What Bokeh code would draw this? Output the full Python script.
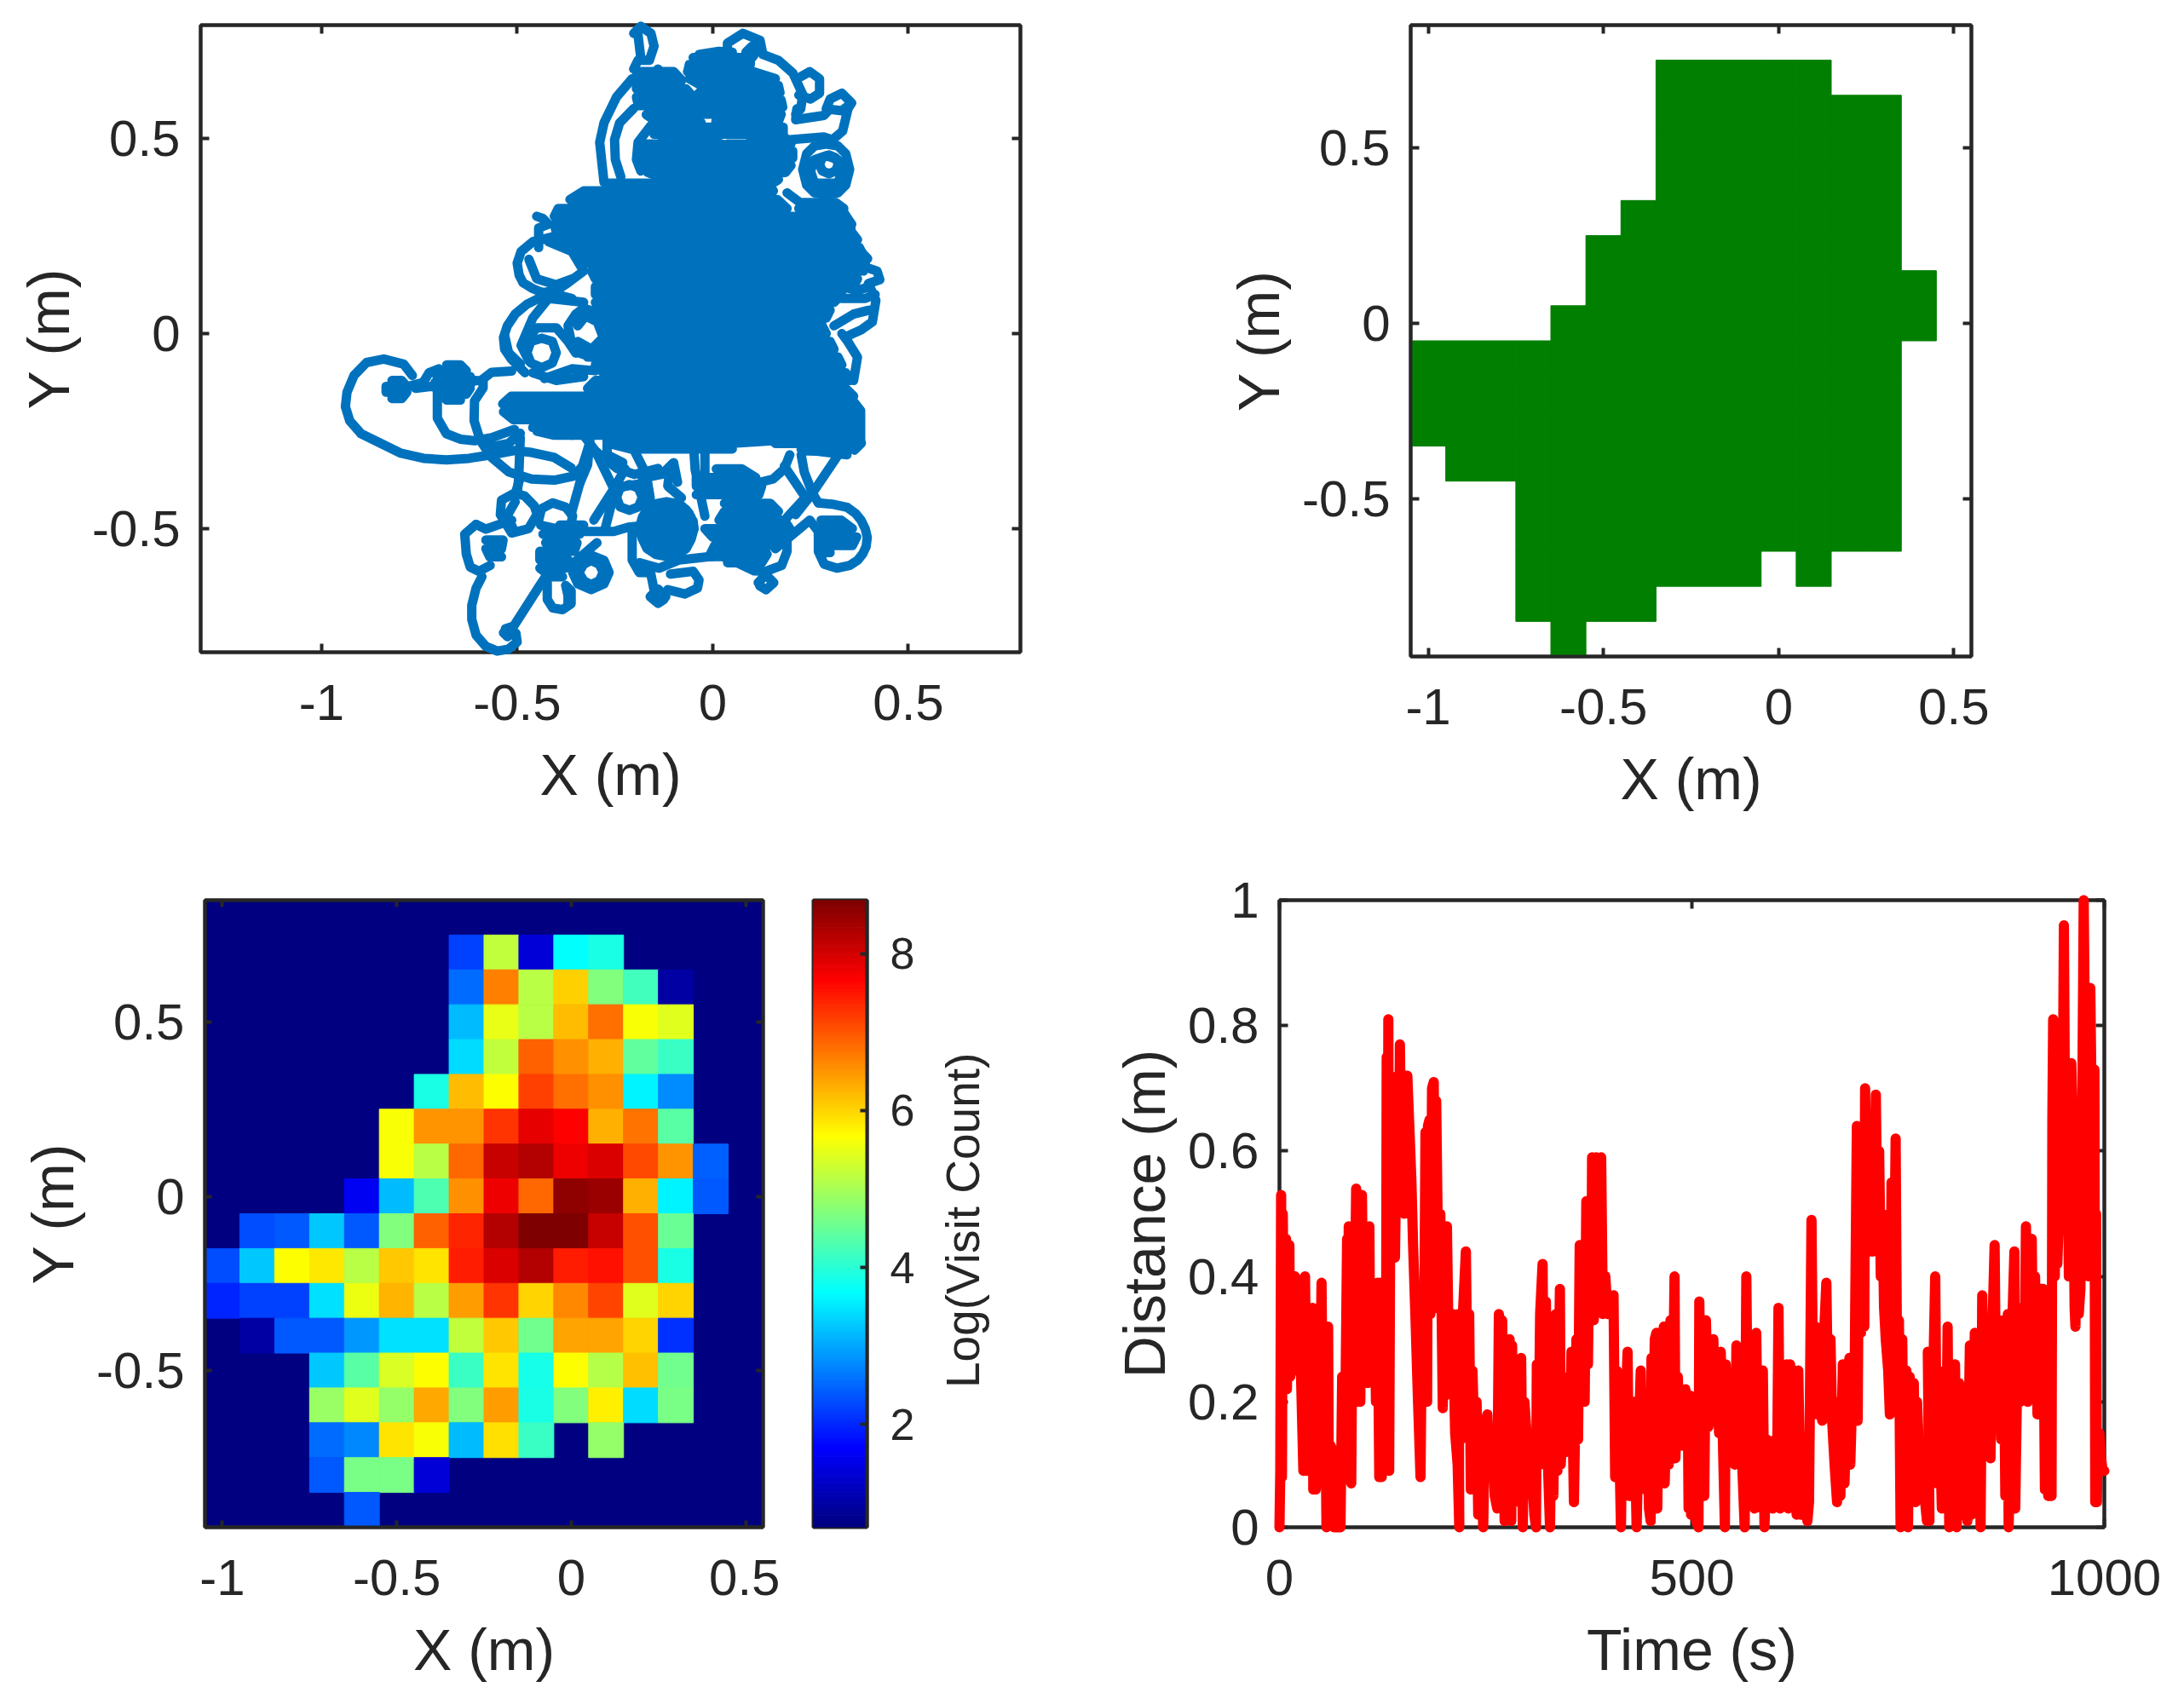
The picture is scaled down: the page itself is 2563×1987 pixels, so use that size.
import numpy as np
from bokeh.core.properties import value
from bokeh.embed import file_html
from bokeh.resources import INLINE
from bokeh.plotting import figure
from bokeh.layouts import column, row
from bokeh.models import LinearAxis, LinearColorMapper, Range1d, ColumnDataSource
from bokeh.transform import transform

INK = "#262626"
FONT = "Liberation Sans"
BLUE = "#0072BD"
GREEN = "#007F00"
RED = "#FF0000"
NAVY = "#000080"

# ------- distance trace (time s, distance m)
dist_a = [(0,0),(1,.09),(2,.53),(3,.08),(4,.50),(6,.22),(8,.46),(9,.22),(12,.45),(13,.24),(15,.40),(16,.25),(19,.40),(20,.25),(24,.33),(26,.25),
 (29,.09),(31,.40),(33,.09),(35,.33),(37,.27),(40,.35),(41,.06),(43,.34),(44,.06),(47,.35),(48,.07),(51,.39),(53,.08),(55,.30),(57,0),(59,.32),(60,.02),(62,.13),
 (65,.12),(66,0),(68,.11),(70,0),(73,0),(74,0),(76,.24),(79,.08),(82,.46),(83,.20),(84,.48),(87,.07),(89,.46),(90,.2),(93,.54),(94,.2),(97,.5),(98,.2),(100,.53),
 (102,.25),(104,.48),(107,.23),(109,.48),(110,.26),(113,.3),(115,.38),(117,.2),(119,.39),(121,.08),(122,.39),(124,.08),(127,.39),(129,.1)]
dist_b = [(130,.75),(131,.1),(132,.81),(133,.09),(135,.71),(137,.43),(139,.7),(140,.43),(143,.72),(145,.55),(146,.77),(148,.55),(150,.72),(151,.5),(153,.72),(154,.52),
 (155,.72),(158,.62),(160,.55),(162,.45),(165,.33),(168,.2),(171,.08),(173,.38),(175,.2),(177,.63),(179,.2),(180,.64),(182,.65),(183,.34),(185,.7),(187,.71),(189,.35),
 (190,.68),(192,.46),(194,.35),(195,.5),(197,.3),(198,.19),(200,.48),(201,.21),(203,.48),(205,.3),(207,.26),(210,.34),(213,.15),(216,.1)]
dist_c = [(218,0),(217,.34),(220,.14),(222,.33),(226,.44),(228,.2),(230,.34),(232,.06),(234,.25),(237,.1),(239,.2),(241,.02),(244,.17),(247,0),(249,.16),(252,.18),(255,.08),
 (258,.15),(261,.05),(264,.03),(266,.34),(268,.1),(270,.33),(273,.01),(275,.28),(277,.02),(279,.3),(281,.01),(282,.29),(285,.04),(288,.22),(290,.1),(293,.27),(295,0),(297,.2),
 (300,.14),(303,.06),(306,.09),(309,.02),(311,0),(312,.26),(314,.1),(316,.34),(319,.42),(321,.1),(323,.36),(325,.12),(328,0),(330,.2),(332,.05),(335,.34),(337,.09),(340,.38),
 (341,.1),(344,.2),(347,.12),(350,.24),(352,.13),(354,.28),(357,.04)]
dist_d = [(360,.3),(362,.14),(364,.45),(366,.2),(368,.45),(370,.2),(372,.52),(374,.26),(376,.52),(378,.33),(379,.59),(381,.33),(384,.59),(386,.35),(390,.59),(392,.34),(395,.4),
 (398,.34),(402,.36),(405,.37),(407,.08),(409,.25),(411,.2),(414,0),(416,.21),(418,.1),(420,.2)]
dist_e = [(422,.28),(424,.05),(426,.2),(428,.06),(430,.2),(433,0),(435,.12),(438,.25),(440,.1),(442,.19),(444,.06),(446,.2),(448,.03),(450,.01),(451,.27),(453,.12),(455,.3),(457,.31),
 (458,.03),(460,.22),(462,.07),(464,.3),(466,.32),(467,.07),(470,.24),(472,.1),(474,.33),(476,.12),(479,.4),(480,.11),(483,.24),(485,.13),(488,.22),(490,.13),(492,.22),(495,.2),
 (496,.03),(498,.21),(499,.02),(502,.08),(505,.01),(508,0),(509,.36),(511,.14),(513,.33),(515,.05),(517,.33),(520,.16),(523,.22),(526,.3),(528,.17),(530,.25),(533,.15),(535,.28),
 (537,.17),(540,0),(541,.26),(544,.12),(547,.24),(550,.11),(552,.1),(554,.29),(556,.12),(558,.25),(561,.1),(564,0),(566,.4),(568,.12),(570,.27),(572,.13),(576,.03),(578,.31),
 (580,.12),(583,.25),(585,.03),(586,.25),(588,.0),(591,.14),(594,.04),(598,.03),(601,.14),(603,.05),(605,.35),(607,.03),(610,.22),(613,.1),(615,.26),(617,.03),(619,.26),(622,.06),
 (624,.25),(627,.02),(629,.25),(632,.02),(636,.08),(640,.01),(642,.04),(645,.49),(647,.2),(650,.32),(652,.18),(655,.22),(658,.17),(660,.3),(663,.39),(665,.2),(668,.3),(670,.17),
 (673,.1),(676,.04),(678,.2),(680,.05),(683,.26),(685,.07),(688,.22),(691,.27),(692,.1),(695,.24),(697,.17)]
dist_f = [(698,.35),(700,.64),(701,.17),(703,.62),(705,.31),(707,.62),(709,.32),(710,.7),(712,.44),(714,.65),(716,.44),(719,.62),(720,.44),(723,.69),(725,.45),(727,.6),(729,.4),(731,.5),
 (733,.35),(735,.3),(738,.25),(740,.18),(742,.55),(744,.22),(747,.62),(749,.2),(751,.33),(753,0),(755,.3),(757,.05),(760,.25),(762,0),(764,.24),(766,.04),(769,.23),(771,.04),(773,.2),
 (776,.1),(779,.13),(782,.05),(785,.01),(788,.01)]
dist_g = [(786,.28),(789,.1),(792,.2),(795,.4),(797,.07),(800,.2),(803,.03),(806,.25),(808,.07),(810,.32),(812,0),(815,.26),(817,.01),(819,.26),(821,0),(824,.23),(827,.02),(830,.15),(832,.2),
 (834,.01),(837,.29),(839,.02),(843,.31),(846,.14),(848,.3),(850,0),(852,.37),(855,.14),(857,.3),(860,.12),(862,.11),(864,.3),(867,.45),(869,.16),(872,.33),(875,.14),(878,.33),(880,.05),
 (883,.34),(884,0),(887,.2),(889,.35),(891,.44),(892,.03),(895,.3),(898,.2),(900,.35),(903,.21),(905,.48),(907,.2),(910,.21),(912,.46),(914,.21),(916,.4),(919,.18),(922,.38),(926,.38),
 (928,.06),(930,.3),(932,.05),(934,.38)]
dist_h = [(936,.05),(937,.65),(938,.81),(940,.4),(941,.75),(943,.42),(945,.5),(947,.56),(949,.54),(951,.96),(953,.5),(955,.74),(957,.4),(960,.74),(962,.62),(964,.35),(965,.32),(967,.66),
 (969,.34),(971,.38),(973,.62),(975,1.0),(977,.7),(979,.85),(981,.4),(983,.86),(985,.63),(987,.73),(988,.73),(989,.04),(990,.5),(991,.04),(992,.14),(994,.15),(996,.11),(998,.09),(1000,.09)]
dist_all = dist_a + dist_b + dist_c + dist_d + dist_e + dist_f + dist_g + dist_h

# ------- log visit count, one list per y bin, 16 x bins from x=-1.0 to 0.5
B = 0.69
log_y_p8 = [B]*16
log_y_p7 = [B]*7 + [2.19,5.2,1.4,3.69,3.9] + [B]*4
log_y_p6 = [B]*7 + [2.55,6.68,5.15,6.05,4.69,4.2,0.98] + [B]*2
log_y_p5 = [B]*7 + [3.17,5.5,5.15,6.2,6.8,5.65,5.45] + [B]*2
log_y_p4 = [B]*7 + [3.42,5.2,6.92,6.55,6.3,4.45,4.15] + [B]*2
log_y_p3 = [B]*6 + [3.9,6.2,5.68,7.17,6.8,6.55,3.6,2.8] + [B]*2
log_y_p2 = [B]*5 + [5.65,6.5,6.5,7.25,7.85,7.68,6.3,6.75,4.4] + [B]*2
log_y_p1 = [B]*5 + [5.65,5.15,6.85,8.1,8.25,7.8,7.95,7.1,6.5,2.45,B]
log_y_00 = [B]*4 + [1.6,3.17,4.3,6.55,7.8,6.85,8.55,8.44,6.3,3.6,2.4,B]
log_y_m1 = [B,2.3,2.38,3.25,2.38,4.69,6.92,7.4,8.25,8.68,8.65,8.1,7.05,4.5,B,B]
log_y_m2 = [2.3,3.25,5.68,5.85,5.15,6.1,5.88,7.45,7.95,8.25,7.44,7.55,7.05,3.9,B,B]
log_y_m3 = [2.0,2.19,2.19,3.45,5.55,6.25,5.15,6.44,7.25,6.0,6.6,7.12,5.44,6.02,B,B]
log_y_m4 = [B,1.0,2.38,2.38,2.9,3.45,3.45,5.2,6.1,4.58,6.4,6.4,6.02,2.08,B,B]
log_y_m5 = [B]*3 + [3.25,4.4,5.38,5.68,4.15,5.88,3.85,5.68,5.1,6.16,4.58,B,B]
log_y_m6 = [B]*3 + [4.9,5.44,4.85,6.35,4.69,6.44,3.9,4.69,5.8,3.42,4.63,B,B]
log_y_m7 = [B]*3 + [2.55,2.75,5.88,5.65,3.17,5.92,4.15,B,4.85,B,B,B,B]
log_y_m8 = [B]*3 + [2.38,4.63,4.63,1.4] + [B]*9
log_y_m9 = [B]*4 + [2.38] + [B]*11
log_rows = [log_y_p8,log_y_p7,log_y_p6,log_y_p5,log_y_p4,log_y_p3,log_y_p2,log_y_p1,log_y_00,
            log_y_m1,log_y_m2,log_y_m3,log_y_m4,log_y_m5,log_y_m6,log_y_m7,log_y_m8,log_y_m9]
bin_x = [-1.0,-.9,-.8,-.7,-.6,-.5,-.4,-.3,-.2,-.1,0.0,.1,.2,.3,.4,.5]
bin_y = [.8,.7,.6,.5,.4,.3,.2,.1,0.0,-.1,-.2,-.3,-.4,-.5,-.6,-.7,-.8,-.9]
extra_visited = [(-1.0,-.1)]

# ------- trajectory: filled masses as rows (y, x left, x right)
core_rows = [(.385,-.27,.14),(.365,-.33,.155),(.343,-.365,.165),(.32,-.395,.19),(.30,-.405,.34),(.28,-.405,.355),
 (.26,-.40,.355),(.24,-.385,.37),(.22,-.36,.375),(.20,-.34,.385),(.18,-.33,.39),(.16,-.31,.385),(.14,-.30,.37),
 (.12,-.30,.36),(.10,-.30,.33),(.08,-.30,.31),(.06,-.29,.30),(.04,-.29,.29),(.02,-.29,.28),(0,-.28,.29),
 (-.02,-.28,.30),(-.04,-.30,.31),(-.06,-.32,.32),(-.08,-.30,.33),(-.10,-.28,.34),(-.12,-.30,.35),(-.14,-.32,.34),
 (-.16,-.515,.36),(-.18,-.537,.36),(-.20,-.535,.36),(-.22,-.51,.36),(-.24,-.46,.37),(-.26,-.36,.37),(-.28,-.27,.06),(-.295,-.21,.05)]
core_tail = [(-.281,.16,.357),(-.30,.23,.34)]
bump_right = [(.335,.23,.315),(.32,.22,.335)]
far_blob_rows = [(-.08,-.68,-.645),(-.095,-.695,-.63),(-.11,-.705,-.62),(-.125,-.71,-.615),(-.14,-.705,-.62),(-.155,-.695,-.63),(-.17,-.68,-.645)]
far_dot_rows = [(-.12,-.82,-.795),(-.135,-.835,-.782),(-.15,-.835,-.782),(-.166,-.82,-.795)]
lobe_upleft = [(.67,-.195,-.10),(.648,-.195,-.079),(.626,-.195,-.068),(.605,-.195,-.05),(.583,-.19,-.04),(.56,-.17,-.03),(.54,-.14,-.03)]
lobe_top = [(.706,-.05,.096),(.688,-.06,.096),(.67,-.064,.103),(.652,-.06,.16),(.634,-.028,.168),(.616,-.035,.172),(.597,-.05,.175),(.579,-.057,.179),(.561,-.05,.175),(.543,.008,.168)]
lobe_band = [(.528,-.15,.18),(.51,-.15,.18)]
lobe_midleft = [(.503,-.13,-.064),(.485,-.173,.023),(.467,-.184,.023),(.449,-.184,.023),(.43,-.184,.023),(.412,-.166,.023),(.394,-.12,.023)]
lobe_midright = [(.503,.096,.183),(.485,.0375,.20),(.467,.0375,.2045),(.449,.0375,.2045),(.43,.0375,.20),(.412,.0375,.186),(.394,.0375,.168),(.376,.0375,.139)]
lobe_band_low = [(-.346,.009,.074),(-.368,-.042,.11),(-.39,-.042,.125),(-.412,-.042,.118)]
lobe_bottom = [(-.434,.03,.147),(-.455,.03,.168),(-.477,.016,.183),(-.499,-.02,.197),(-.521,0,.19),(-.542,.005,.154),(-.564,-.006,.139),(-.586,.038,.125)]
lobe_lowleft = [(-.49,-.391,-.33),(-.513,-.413,-.34),(-.535,-.427,-.347),(-.557,-.442,-.354),(-.579,-.442,-.369),(-.60,-.442,-.376),(-.622,-.413,-.384)]
lobe_dark = [(-.528,-.58,-.536),(-.55,-.58,-.54),(-.571,-.57,-.54)]
lobe_ringfill = [(-.477,.277,.328),(-.499,.27,.357),(-.52,.27,.368),(-.542,.27,.357),(-.56,.28,.30)]
lobe_midring = [(-.44,-.15,-.08),(-.46,-.17,-.06),(-.48,-.18,-.05),(-.50,-.188,-.048),(-.52,-.18,-.055),(-.54,-.165,-.065),(-.56,-.13,-.09)]
lobe_ringup = [(.385,.26,.325),(.37,.265,.32)]
filled_masses = [core_rows, core_tail, bump_right, far_blob_rows, far_dot_rows, lobe_upleft, lobe_top, lobe_band, lobe_midleft, lobe_midright,
                 lobe_band_low, lobe_bottom, lobe_lowleft, lobe_dark, lobe_ringfill, lobe_midring, lobe_ringup]

# ------- trajectory: visible strokes (x, y)
top_hook = [(-.202,.677),(-.191,.699),(-.162,.699),(-.15,.735),(-.158,.768),(-.184,.786),(-.202,.768),(-.191,.764),(-.184,.706)]
top_bump = [(-.14,.677),(-.14,.66)]
top_arc_a = [(-.206,.652),(-.246,.605),(-.278,.539),(-.289,.489),(-.278,.387)]
top_arc_b = [(-.202,.576),(-.238,.539),(-.251,.496),(-.249,.445),(-.235,.401)]
top_arc_c = [(-.158,.532),(-.191,.489),(-.195,.445),(-.184,.416)]
top_outer_a = [(.0375,.72),(.0375,.743),(.077,.768),(.121,.75),(.128,.714),(.168,.699),(.205,.666),(.23,.612),(.225,.575),(.212,.561)]
top_outer_b = [(-.064,.67),(-.035,.714),(.016,.722),(.05,.72)]
top_inner_dot = [(.085,.72),(.10,.735),(.118,.73),(.10,.705)]
ring_small = [(.223,.656),(.248,.67),(.273,.652),(.273,.615),(.25,.60),(.22,.61)]
ring_small_b = [(.215,.575),(.212,.547),(.284,.558),(.30,.575)]
blob_right = [(.355,.59),(.33,.615),(.30,.60),(.29,.575),(.33,.57),(.355,.59),(.346,.576),(.332,.518),(.306,.496)]
band_right_a = [(.197,.496),(.284,.503),(.306,.496)]
ring_upper = [(.35,.42),(.34,.46),(.32,.48),(.29,.485),(.26,.48),(.24,.46),(.23,.42),(.24,.38),(.26,.36),(.29,.355),(.32,.36),(.34,.38),(.35,.42)]
ring_upper2 = [(.33,.415),(.32,.445),(.29,.455),(.26,.445),(.25,.415),(.26,.385),(.29,.375),(.32,.385),(.33,.415)]
ring_upper3 = [(.321,.433),(.314,.45),(.297,.457),(.28,.45),(.273,.433),(.28,.416),(.297,.409),(.314,.416),(.321,.433)]
spur_left = [(-.45,.30),(-.435,.295),(-.42,.28),(-.445,.27),(-.445,.22)]
ring_left = [(-.40,.25),(-.46,.235),(-.49,.21),(-.50,.18),(-.495,.15),(-.485,.13),(-.46,.115),(-.435,.105),(-.40,.11),(-.37,.13),(-.33,.16),(-.36,.21),(-.42,.235)]
ring_left_b = [(-.47,.19),(-.45,.14),(-.40,.125),(-.36,.14)]
arc_midleft = [(-.36,.09),(-.40,.10),(-.435,.095),(-.475,.075),(-.505,.05),(-.525,.02),(-.535,-.01),(-.532,-.04),(-.515,-.065),(-.48,-.10)]
arc_midleft_b = [(-.33,.08),(-.42,.09),(-.46,.04),(-.49,-.03),(-.47,-.07)]
ring_mid_a = [(-.40,-.049),(-.41,-.02),(-.437,-.012),(-.465,-.02),(-.475,-.049),(-.465,-.075),(-.437,-.087),(-.41,-.075),(-.40,-.049)]
ring_mid_arc = [(-.477,-.02),(-.45,.015),(-.40,.015),(-.37,-.02),(-.35,-.05)]
ring_mid_arc_b = [(-.532,-.005),(-.522,-.049),(-.492,-.078)]
ring_mid_b = [(-.37,.02),(-.35,.05),(-.33,.065),(-.30,.055),(-.28,.04),(-.27,.005),(-.27,-.03),(-.29,-.05),(-.31,-.06),(-.34,-.05),(-.36,-.03),(-.37,.02)]
ring_mid_b2 = [(-.345,.02),(-.325,.045),(-.295,.03),(-.28,-.01),(-.31,-.04),(-.345,-.02)]
link_mid = [(-.46,-.10),(-.40,-.12),(-.33,-.11)]
link_mid_b = [(-.43,-.115),(-.36,-.09),(-.30,-.095)]
far_loop = [(-.768,-.107),(-.79,-.078),(-.841,-.065),(-.885,-.074),(-.917,-.107),(-.935,-.15),(-.939,-.187),(-.928,-.223),(-.899,-.256),(-.848,-.281),(-.797,-.306),
            (-.739,-.319),(-.681,-.323),(-.623,-.319),(-.565,-.31),(-.507,-.299),(-.463,-.304),(-.405,-.317),(-.362,-.343)]
far_bridge_a = [(-.78,-.135),(-.74,-.125),(-.725,-.10),(-.70,-.09)]
far_bridge_b = [(-.76,-.14),(-.72,-.135),(-.70,-.14)]
far_link = [(-.63,-.118),(-.594,-.121),(-.565,-.099),(-.514,-.096)]
far_lobe = [(-.704,-.15),(-.704,-.216),(-.681,-.256),(-.645,-.27),(-.609,-.274),(-.565,-.266),(-.507,-.245)]
far_lobe_b = [(-.587,-.12),(-.587,-.139),(-.609,-.172),(-.61,-.223),(-.594,-.274),(-.565,-.317),(-.521,-.354),(-.463,-.372),(-.405,-.375),(-.354,-.364),(-.333,-.339),(-.315,-.281)]
far_lobe_c = [(-.58,-.274),(-.558,-.288),(-.522,-.281),(-.492,-.255)]
far_lobe_v = [(-.492,-.266),(-.496,-.368),(-.50,-.412)]
bulge_low = [(-.449,-.25),(-.405,-.26),(-.36,-.26),(-.33,-.25)]
low_hook = [(-.520,-.764),(-.503,-.767),(-.500,-.789),(-.522,-.807),(-.551,-.812),(-.580,-.80),(-.605,-.771),(-.616,-.731),(-.616,-.695),(-.605,-.651),(-.59,-.622)]
low_dot = [(-.53,-.755),(-.515,-.75),(-.508,-.765),(-.525,-.775),(-.535,-.765)]
low_line = [(-.51,-.75),(-.442,-.644),(-.40,-.58)]
low_line_b = [(-.304,-.477),(-.253,-.397),(-.224,-.346)]
low_spike = [(-.605,-.488),(-.634,-.513),(-.63,-.564),(-.62,-.597),(-.598,-.608),(-.569,-.593)]
low_spike_b = [(-.605,-.488),(-.58,-.50),(-.514,-.477)]
low_ring_a = [(-.543,-.463),(-.54,-.426),(-.507,-.408),(-.481,-.415),(-.456,-.441),(-.449,-.462),(-.471,-.499),(-.514,-.51),(-.543,-.463)]
low_ring_a2 = [(-.505,-.43),(-.525,-.465),(-.51,-.50)]
low_ring_b = [(-.445,-.477),(-.438,-.448),(-.409,-.433),(-.376,-.444),(-.358,-.466),(-.365,-.499),(-.398,-.513),(-.434,-.513)]
low_ring_c = [(-.265,-.611),(-.278,-.58),(-.311,-.567),(-.345,-.58),(-.358,-.611),(-.345,-.64),(-.311,-.655),(-.278,-.64),(-.265,-.611)]
low_ring_c2 = [(-.28,-.611),(-.29,-.59),(-.311,-.58),(-.33,-.59),(-.342,-.611),(-.33,-.632),(-.311,-.642),(-.29,-.632),(-.28,-.611)]
low_u = [(-.423,-.637),(-.423,-.68),(-.409,-.702),(-.384,-.706),(-.362,-.691),(-.362,-.658),(-.376,-.644),(-.37,-.67),(-.37,-.69)]
low_ring_e = [(-.18,-.419),(-.19,-.395),(-.213,-.386),(-.237,-.395),(-.246,-.419),(-.237,-.443),(-.213,-.452),(-.19,-.443),(-.18,-.419)]
low_ring_e2 = [(-.253,-.395),(-.19,-.385),(-.163,-.41),(-.17,-.445)]
low_links_a = [(-.34,-.506),(-.253,-.506),(-.216,-.495),(-.17,-.49)]
low_links_b = [(-.34,-.383),(-.362,-.462)]
low_links_c = [(-.253,-.412),(-.275,-.499)]
low_links_d = [(-.492,-.368),(-.503,-.404)]
low_links_e = [(-.296,-.535),(-.33,-.564),(-.362,-.593)]
low_links_f = [(-.312,-.25),(-.32,-.336),(-.34,-.383)]
low_links_g = [(-.44,-.49),(-.35,-.51)]
low_links_h = [(-.33,-.26),(-.30,-.30),(-.245,-.345),(-.20,-.36),(-.14,-.345)]
low_links_i = [(-.27,-.26),(-.27,-.31),(-.23,-.33)]
low_links_j = [(-.253,-.397),(-.30,-.30)]
low_links_k = [(-.20,-.30),(-.17,-.36),(-.16,-.42)]
mid_ring_a = [(-.048,-.499),(-.055,-.47),(-.068,-.45),(-.09,-.435),(-.118,-.43),(-.145,-.435),(-.168,-.45),(-.18,-.47),(-.188,-.499),(-.18,-.525),(-.168,-.55),(-.145,-.565),(-.118,-.57),(-.09,-.565),(-.068,-.55),(-.055,-.525),(-.048,-.499)]
mid_u = [(-.206,-.50),(-.206,-.579),(-.188,-.611),(-.159,-.611),(-.148,-.666)]
mid_arc = [(-.188,-.586),(-.137,-.60),(-.086,-.579),(-.013,-.571),(.025,-.57),(.06,-.585),(.106,-.607),(.136,-.608)]
mid_dot = [(-.12,-.673),(-.14,-.653),(-.16,-.673),(-.14,-.69),(-.125,-.68),(-.14,-.67)]
mid_loop = [(-.108,-.615),(-.05,-.608),(-.035,-.63),(-.039,-.651),(-.071,-.666),(-.115,-.655)]
low_dot_b = [(.116,-.637),(.136,-.617),(.156,-.637),(.136,-.655),(.12,-.645)]
low_tail = [(.136,-.608),(.176,-.593),(.19,-.557),(.19,-.506)]
lower_a = [(-.05,-.272),(-.045,-.348),(-.02,-.467)]
lower_b = [(-.11,-.35),(-.115,-.39),(-.08,-.42)]
lower_c = [(-.18,-.37),(-.13,-.36),(-.10,-.33),(-.09,-.38)]
lower_d = [(-.02,-.30),(-.02,-.36),(-.03,-.40)]
lower_e = [(.11,-.383),(.154,-.372),(.183,-.346),(.197,-.31)]
lower_f = [(.226,-.296),(.343,-.31)]
ring_lowright = [(.27,-.433),(.31,-.437),(.343,-.444),(.365,-.46),(.379,-.477),(.39,-.50),(.395,-.521),(.392,-.545),(.383,-.564),(.37,-.58),(.35,-.593),(.317,-.60),(.285,-.59),(.27,-.557),(.27,-.506),(.248,-.477),(.205,-.513),(.16,-.55)]
cross_a = [(.321,-.31),(.255,-.408),(.212,-.463)]
cross_b = [(.183,-.339),(.237,-.419),(.19,-.47)]
cross_c = [(.226,-.31),(.234,-.354),(.255,-.408),(.27,-.433)]
right_dot = [(.344,-.28),(.362,-.262),(.38,-.28),(.362,-.298),(.35,-.29)]
right_edge_a = [(.33,-.25),(.362,-.27),(.378,-.272),(.378,-.197),(.34,-.148)]
right_edge_b = [(.32,-.09),(.36,-.12),(.37,-.06),(.345,-.02),(.33,0)]
right_edge_c = [(.34,-.008),(.38,.01),(.408,.03),(.417,.085),(.398,.128),(.427,.138),(.42,.16),(.39,.17)]
right_edge_d = [(.33,.09),(.39,.09),(.415,.10)]
right_edge_e = [(.33,.12),(.37,.11),(.40,.12)]
right_edge_f = [(.31,.02),(.36,.05),(.40,.06)]
upper_right_a = [(.396,.192),(.35,.24),(.354,.28),(.335,.31)]
mid_channel = [(.19,.36),(.23,.33),(.25,.31)]
strokes = [top_hook,top_bump,top_arc_a,top_arc_b,top_arc_c,top_outer_a,top_outer_b,top_inner_dot,ring_small,ring_small_b,blob_right,band_right_a,
           ring_upper,ring_upper2,ring_upper3,spur_left,ring_left,ring_left_b,arc_midleft,arc_midleft_b,ring_mid_a,ring_mid_arc,ring_mid_arc_b,ring_mid_b,ring_mid_b2,
           link_mid,link_mid_b,far_loop,far_bridge_a,far_bridge_b,far_link,far_lobe,far_lobe_b,far_lobe_c,far_lobe_v,bulge_low,
           low_hook,low_dot,low_line,low_line_b,low_spike,low_spike_b,low_ring_a,low_ring_a2,low_ring_b,low_ring_c,low_ring_c2,low_u,low_ring_e,low_ring_e2,
           low_links_a,low_links_b,low_links_c,low_links_d,low_links_e,low_links_f,low_links_g,low_links_h,low_links_i,low_links_j,low_links_k,
           mid_ring_a,mid_u,mid_arc,mid_dot,mid_loop,low_dot_b,low_tail,lower_a,lower_b,lower_c,lower_d,lower_e,lower_f,
           ring_lowright,cross_a,cross_b,cross_c,right_dot,right_edge_a,right_edge_b,right_edge_c,right_edge_d,right_edge_e,right_edge_f,upper_right_a,mid_channel]

# ------- ticks
xy_ticks = [-1,-.5,0,.5]
y_ticks = [-.5,0,.5]
labels = {-1:"-1",-.5:"-0.5",0:"0",.5:"0.5"}
time_ticks = [0,500,1000]
dist_ticks = [0,.2,.4,.6,.8,1]
dist_labels = {0:"0",.2:"0.2",.4:"0.4",.6:"0.6",.8:"0.8",1:"1"}
cbar_ticks = [2,4,6,8]


def make(xr, yr, fw, fh, bl, br, bt, bb, xt, yt, xl, yl, xlab, ylab, tick=10, ls_y=10, ls_x=23, bg="white"):
    p = figure(x_range=Range1d(*xr), y_range=Range1d(*yr), frame_width=fw, frame_height=fh,
               min_border_left=bl, min_border_right=br, min_border_top=bt, min_border_bottom=bb,
               output_backend="svg", toolbar_location=None, tools="", background_fill_color=bg,
               border_fill_color="white")
    p.grid.visible = False
    p.outline_line_color = INK
    p.outline_line_width = 4
    p.outline_line_alpha = 1
    for ax, t, lab, title, st in ((p.xaxis[0], xt, xl, xlab, ls_x), (p.yaxis[0], yt, yl, ylab, ls_y)):
        ax.ticker = t
        ax.major_label_overrides = lab
        ax.axis_label = title
        ax.axis_label_text_font = FONT
        ax.axis_label_text_font_size = "68px"
        ax.axis_label_text_font_style = "normal"
        ax.axis_label_text_color = INK
        ax.axis_label_standoff = st
        ax.major_label_text_font = FONT
        ax.major_label_text_font_size = "60px"
        ax.major_label_text_color = INK
        ax.major_tick_in = tick
        ax.major_tick_out = 0
        ax.minor_tick_line_color = None
        ax.major_tick_line_color = INK
        ax.major_tick_line_width = 4
        ax.axis_line_color = INK
        ax.axis_line_width = 4
    p.xaxis[0].major_label_standoff = 38
    p.yaxis[0].major_label_standoff = 24
    for t, side in ((xt, "above"), (yt, "right")):
        p.add_layout(LinearAxis(ticker=t, major_label_text_color=None, major_label_text_font_size="1px", major_label_standoff=0,
                                major_tick_in=tick, major_tick_out=0, minor_tick_line_color=None, major_tick_line_color=INK,
                                major_tick_line_width=4, axis_line_color=INK, axis_line_width=4), side)
    return p


def zigzag(rows):
    px, py = [], []
    for i, (y, a, b) in enumerate(rows):
        first, second = (a, b) if i % 2 == 0 else (b, a)
        px += [first, second]
        py += [y, y]
    return px, py


# panel A: trajectory
a = make((-1.309,.7865),(-.815,.789),962,736,235,103,29,255,xy_ticks,y_ticks,labels,labels,"X (m)","Y (m)")
xs = [[q[0] for q in s] for s in strokes]
ys = [[q[1] for q in s] for s in strokes]
for m in filled_masses:
    zx, zy = zigzag(m)
    xs.append(zx)
    ys.append(zy)
a.multi_line(xs, ys, line_color=BLUE, line_width=11, line_join="round", line_cap="round", level="overlay")

# shared cells
cx, cy, cv = [], [], []
for yv, r in zip(bin_y, log_rows):
    for xv, v in zip(bin_x, r):
        if v > B:
            cx.append(xv); cy.append(yv); cv.append(v)
cells = ColumnDataSource(dict(x=cx, y=cy, v=cv))

# panel B: visited area
b = make((-1.05,.55),(-.95,.85),658,741,355,250,26,253,xy_ticks,y_ticks,labels,labels,"X (m)","Y (m)")
gx = cx + [q[0] for q in extra_visited]
gy = cy + [q[1] for q in extra_visited]
b.rect(gx, gy, width=.1, height=.1, fill_color=GREEN, line_color=GREEN, line_width=1)

# jet
def jet(n=256):
    out = []
    for i in range(n):
        t = i / (n - 1)
        r = np.clip(min(4*t-1.5, -4*t+4.5), 0, 1)
        g = np.clip(min(4*t-0.5, -4*t+3.5), 0, 1)
        bb = np.clip(min(4*t+0.5, -4*t+2.5), 0, 1)
        out.append("#%02x%02x%02x" % (int(r*255), int(g*255), int(bb*255)))
    return out
JET = jet()
mapper = LinearColorMapper(palette=JET, low=.69, high=8.68)

# panel C: heat map
c = make((-1.05,.55),(-.95,.85),655,736,240,20,36,195,xy_ticks,y_ticks,labels,labels,"X (m)","Y (m)",tick=8,bg=NAVY)
c.rect("x","y",width=.1,height=.1,source=cells,fill_color=transform("v",mapper),line_color=transform("v",mapper),line_width=1)

# colour bar
steps = list(np.linspace(.69, 8.68, 257))
mids = [(u+w)/2 for u, w in zip(steps[:-1], steps[1:])]
cb = figure(x_range=Range1d(0,1), y_range=Range1d(.69,8.68), frame_width=63, frame_height=736,
            min_border_left=39, min_border_right=283, min_border_top=36, min_border_bottom=195,
            output_backend="svg", toolbar_location=None, tools="", y_axis_location="right")
cb.grid.visible = False
cb.xaxis.visible = False
cb.outline_line_color = INK
cb.outline_line_width = 4
cb.outline_line_alpha = 1
cb.rect([.5]*len(mids), mids, width=1, height=(8.68-.69)/256, fill_color=JET, line_color=JET, line_width=1)
ax = cb.yaxis[0]
ax.ticker = cbar_ticks
ax.major_label_text_font = FONT
ax.major_label_text_font_size = "52px"
ax.major_label_text_color = INK
ax.major_label_standoff = 27
ax.major_tick_in = 8
ax.major_tick_out = 0
ax.minor_tick_line_color = None
ax.major_tick_line_color = INK
ax.major_tick_line_width = 4
ax.axis_line_color = INK
ax.axis_line_width = 4
cb.text([2.79], [4.6], text=["Log(Visit Count)"], angle=np.pi/2, text_align="center", text_baseline="middle",
        text_font=value(FONT), text_font_size="55px", text_color=INK, level="overlay")

# panel D: distance
d = make((0,1000),(0,1),968,736,201,94,36,195,time_ticks,dist_ticks,{},dist_labels,"Time (s)","Distance (m)")
d.line([q[0] for q in dist_all], [q[1] for q in dist_all], line_color=RED, line_width=12, line_join="round", line_cap="round", level="overlay")

page = column(row(a, b, spacing=0), row(c, cb, d, spacing=0), spacing=0)
open("out.html", "w").write(file_html(page, INLINE))
